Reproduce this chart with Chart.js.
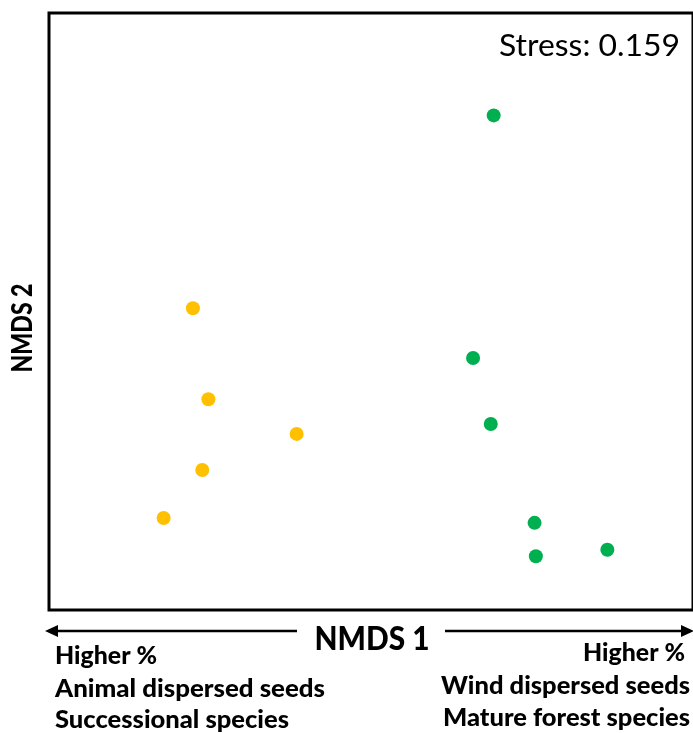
<!DOCTYPE html>
<html><head><meta charset="utf-8">
<script src="https://cdn.jsdelivr.net/npm/chart.js@4"></script>
<style>html,body{margin:0;padding:0;background:#fff;overflow:hidden}</style>
</head><body>
<canvas id="c" width="700" height="733"></canvas>
<script>
// ---- data ----
const groupNames = ['Successional', 'Mature forest'];
const successionalX = [-0.553, -0.505, -0.231, -0.524, -0.644];
const successionalY = [0.011, -0.294, -0.410, -0.531, -0.692];
const matureX = [0.381, 0.317, 0.372, 0.508, 0.512, 0.734];
const matureY = [0.657, -0.156, -0.377, -0.708, -0.820, -0.798];
const stressLabel = 'Stress: 0.159';
const xAxisLabel = 'NMDS 1';
const yAxisLabel = 'NMDS 2';
const leftNotes = ['Higher %', 'Animal dispersed seeds', 'Successional species'];
const rightNotes = ['Higher %', 'Wind dispersed seeds', 'Mature forest species'];

const toPts = (xs, ys) => xs.map((x, i) => ({x: x, y: ys[i]}));
const FAM = 'Lato, "Open Sans", sans-serif';

function fitText(ctx, text, x, y, align, targetW, font) {
  ctx.save();
  ctx.font = font;
  const w = ctx.measureText(text).width;
  const s = targetW / w;
  ctx.translate(x, y);
  ctx.scale(s, 1);
  ctx.textAlign = align;
  ctx.textBaseline = 'middle';
  ctx.fillStyle = '#000';
  ctx.fillText(text, 0, 0);
  ctx.restore();
}

function arrowHead(ctx, tipX, y, dir) {
  ctx.beginPath();
  ctx.moveTo(tipX, y);
  ctx.lineTo(tipX - dir * 13, y - 6);
  ctx.lineTo(tipX - dir * 13, y + 6);
  ctx.closePath();
  ctx.fill();
}

const decor = {
  id: 'decor',
  afterDraw(chart) {
    const ctx = chart.ctx;
    const a = chart.chartArea;
    ctx.save();
    ctx.strokeStyle = '#000';
    ctx.lineWidth = 3;
    ctx.strokeRect(a.left, a.top, a.right - a.left, a.bottom - a.top);
    fitText(ctx, stressLabel, 499, 46, 'left', 181, '400 31px ' + FAM);
    ctx.save();
    ctx.translate(23, 328);
    ctx.rotate(-Math.PI / 2);
    fitText(ctx, yAxisLabel, 0, 0, 'center', 89, '900 28px ' + FAM);
    ctx.restore();
    fitText(ctx, xAxisLabel, 372, 640, 'center', 115, '900 32px ' + FAM);
    ctx.fillStyle = '#000';
    ctx.lineWidth = 2.5;
    ctx.beginPath();
    ctx.moveTo(52, 631); ctx.lineTo(297, 631);
    ctx.moveTo(445, 631); ctx.lineTo(686, 631);
    ctx.stroke();
    arrowHead(ctx, 45, 631, -1);
    arrowHead(ctx, 694, 631, 1);
    const leftW = [102, 270, 234];
    const rightW = [102, 249, 247];
    const leftY = [656, 689, 720];
    const rightY = [653, 686, 718];
    const rightX = [685, 690, 690];
    leftNotes.forEach((t, i) => fitText(ctx, t, 55, leftY[i], 'left', leftW[i], '900 25px ' + FAM));
    rightNotes.forEach((t, i) => fitText(ctx, t, rightX[i], rightY[i], 'right', rightW[i], '900 25px ' + FAM));
    ctx.restore();
  }
};

new Chart(document.getElementById('c'), {
  type: 'scatter',
  data: {
    datasets: [
      { label: groupNames[0], data: toPts(successionalX, successionalY), backgroundColor: '#FFC000', borderWidth: 0, pointRadius: 7 },
      { label: groupNames[1], data: toPts(matureX, matureY), backgroundColor: '#00B050', borderWidth: 0, pointRadius: 7 }
    ]
  },
  options: {
    responsive: false,
    animation: false,
    devicePixelRatio: 1,
    events: [],
    layout: { padding: { left: 49, top: 13, right: 5, bottom: 123 } },
    plugins: { legend: { display: false }, tooltip: { enabled: false } },
    scales: {
      x: { type: 'linear', min: -1, max: 1, display: false },
      y: { type: 'linear', min: -1, max: 1, display: false }
    }
  },
  plugins: [decor]
});
</script>
</body></html>
